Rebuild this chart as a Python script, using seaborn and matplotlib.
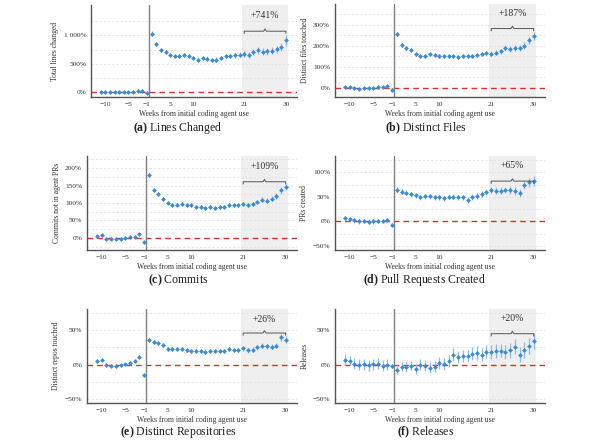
import matplotlib
matplotlib.use("Agg")
import matplotlib.pyplot as plt
import seaborn as sns
import numpy as np
import pandas as pd
from matplotlib.ticker import FixedLocator, FuncFormatter

# ---------------- data
weeks = list(range(-11, 0)) + list(range(1, 31))
tick_weeks = [-10, -5, -1, 5, 10, 21, 30]

lines_est = [5, 5, -5, -10, -5, -5, 0, 5, 10, 18, -22,
             1035, 845, 750, 705, 650, 630, 640, 648, 642, 605, 570, 600, 590, 565, 570,
             600, 630, 640, 648, 655, 676, 660, 706, 735, 712, 717, 730, 753, 795, 915]
lines_err = [12, 10, 10, 10, 10, 10, 10, 10, 12, 12, 12,
             40, 35, 35, 35, 35, 32, 32, 35, 35, 35, 40, 38, 38, 38, 40,
             40, 40, 45, 45, 45, 50, 55, 55, 60, 60, 60, 65, 65, 75, 95]

files_est = [5, 6, -2, -3, -2, -2, 2, 3, 5, 11, -8,
             257, 206, 190, 179, 163, 154, 154, 162, 156, 154, 152, 154, 154, 146, 151,
             151, 151, 157, 160, 167, 162, 167, 175, 189, 186, 190, 189, 202, 227, 249]
files_err = [5, 5, 5, 4, 4, 4, 4, 4, 5, 5, 6,
             10, 10, 10, 10, 9, 9, 9, 9, 9, 9, 9, 9, 9, 10, 10,
             10, 10, 10, 10, 11, 12, 12, 13, 14, 15, 15, 15, 16, 17, 20]

commits_est = [6, 7, -2, -3, -3, -2, 0, 2, 3, 10, -13,
               181, 137, 125, 112, 101, 95, 95, 96, 94, 94, 88, 88, 87, 88, 86,
               88, 89, 94, 93, 93, 97, 95, 96, 104, 110, 107, 112, 120, 136, 145]
commits_err = [3, 3, 3, 3, 3, 3, 3, 3, 3, 3, 4,
               5, 5, 5, 5, 5, 5, 5, 5, 5, 5, 5, 5, 5, 5, 5,
               5, 5, 5, 5, 5, 6, 6, 6, 6, 7, 7, 7, 8, 9, 9]

prs_est = [7, 5, 2, 0, 1, -1, 0, 1, 1, 3, -8,
           64, 60, 58, 55, 53, 49, 51, 51, 49, 49, 47, 50, 50, 49, 49,
           43, 49, 52, 55, 59, 64, 62, 62, 64, 64, 61, 58, 74, 80, 82]
prs_err = [5, 5, 5, 5, 5, 5, 5, 5, 5, 5, 4,
           5, 5, 5, 5, 5, 5, 5, 5, 5, 5, 5, 5, 5, 5, 5,
           6, 6, 6, 6, 6, 7, 7, 7, 7, 8, 8, 8, 9, 9, 10]

repos_est = [5, 7, -1, -1.5, -1.5, -0.5, 0.5, 3, 4.5, 10.5, -15,
             36, 33.5, 31, 28, 23, 23, 23, 23, 21.3, 20.4, 20, 20, 19, 19.4, 20,
             20.4, 20.4, 22.8, 21, 21.8, 23.8, 21, 21.8, 25.2, 27.6, 26.7, 26.2, 27.6, 39.8, 36.4]
repos_err = [2.5, 2.5, 2.5, 2.5, 2.5, 2.5, 2.5, 2.5, 2.5, 2.5, 2.5,
             3, 3, 3, 3, 3, 3, 3, 3, 3, 3, 3, 3, 3, 3, 3,
             3, 3, 3, 3, 3, 3.5, 3.5, 3.5, 3.5, 4, 4, 4, 4, 5, 5]

releases_est = [6.8, 5.8, 1, -0.5, 0.5, -1, 0.5, 1, -2, -0.5, -2.4,
                -7.3, -2.9, -3.9, -1.5, -6.8, -0.5, -1.5, -4.4, -2.9, 1.9, 1, 5.3, 14.6, 10.7, 12.6,
                12.1, 16, 16.5, 14.6, 18.9, 18.4, 19.4, 20.4, 17.9, 20.9, 26.2, 14.1, 21.3, 26.7, 34.4]
releases_err = [8, 7, 8, 8, 8, 8, 8, 8, 8, 8, 3,
                7, 7, 7, 7, 7, 8, 8, 8, 8, 9, 9, 9, 9, 9, 9,
                9, 9, 10, 10, 10, 10, 10, 10, 10, 11, 11, 11, 12, 12, 12]

ylabels = ["Total lines changed", "Distinct files touched", "Commits not in agent PRs",
           "PRs created", "Distinct repos touched", "Releases"]
letters = ["(a)", "(b)", "(c)", "(d)", "(e)", "(f)"]
captions = ["Lines Changed", "Distinct Files", "Commits",
            "Pull Requests Created", "Distinct Repositories", "Releases"]
late_gain = ["+741%", "+187%", "+109%", "+65%", "+26%", "+20%"]
yticks = [[0, 500, 1000], [0, 100, 200, 300], [0, 50, 100, 150, 200],
          [-50, 0, 50, 100], [-50, 0, 50], [-50, 0, 50]]
estimates = [lines_est, files_est, commits_est, prs_est, repos_est, releases_est]
errors = [lines_err, files_err, commits_err, prs_err, repos_err, releases_err]

# ---------------- per-panel layout (pixels of a 592x445 canvas)
W, H = 592, 445
boxes = [(91, 5, 297, 97), (335, 4, 545, 97),
         (87, 156, 297, 250), (335, 156, 545, 250),
         (87, 309, 297, 403), (335, 309, 545, 403)]
ylims = [(-90, 1540), (-43, 400), (-35, 235), (-58, 133), (-56, 81), (-56, 81)]
bracket_y = [1076, 283, 161, 82, 46, 45]
gain_y = [1353, 357, 205, 113, 66, 67]
caption_xy = [(178, 128), (426, 128), (178, 280), (424, 280), (178, 432), (426, 432)]

sns.set_theme(style="white")
plt.rcParams["font.family"] = ["Liberation Serif", "DejaVu Serif"]
plt.rcParams["mathtext.fontset"] = "custom"
plt.rcParams["mathtext.rm"] = "Liberation Serif"
plt.rcParams["mathtext.bf"] = "Liberation Serif:bold"


def pos(w):
    # no week 0 on the axis: post weeks sit right after week -1
    return w if w < 0 else w - 1


def pct(v, _):
    s = "{:,.0f}".format(abs(v)).replace(",", " ")
    return ("\u2212" if v < 0 else "") + s + "%"


blue = "#3a8ad8"
light_blue = "#8dbbe8"
fig = plt.figure(figsize=(W / 100, H / 100), dpi=100)

for i in range(6):
    l, t, r, b = boxes[i]
    ax = fig.add_axes([l / W, 1 - b / H, (r - l) / W, (b - t) / H])
    df = pd.DataFrame({"week": weeks, "est": estimates[i], "err": errors[i]})
    df["x"] = df["week"].map(pos)

    ax.axvspan(pos(21) - 0.5, pos(30) + 0.5, color="#efefef", lw=0, zorder=0)
    ax.errorbar(df["x"], df["est"], yerr=df["err"], fmt="none", ecolor=light_blue,
                elinewidth=0.9, zorder=2)
    sns.scatterplot(data=df, x="x", y="est", ax=ax, color=blue, s=6, linewidth=0,
                    marker="D", zorder=3, legend=False)

    ax.axhline(0, color="#d8302a", lw=1.0, dashes=(4, 3), zorder=1)
    ax.axvline(-0.5, color="#808080", lw=1.0, zorder=1)

    # bracket over the last ten weeks
    lo, hi = ylims[i]
    d = 0.025 * (hi - lo)
    x0, x1 = pos(21), pos(30)
    xm = (x0 + x1) / 2
    ax.plot([x0, x0, xm - 0.3, xm, xm + 0.3, x1, x1],
            [bracket_y[i] - d, bracket_y[i], bracket_y[i], bracket_y[i] + d,
             bracket_y[i], bracket_y[i], bracket_y[i] - d],
            color="#555555", lw=0.7, zorder=4)
    ax.text(xm, gain_y[i], late_gain[i], ha="center", va="center", fontsize=7, color="#333333")

    ax.set_xlim(-13.1, 31.4)
    ax.set_ylim(lo, hi)
    ax.set_xticks([pos(w) for w in tick_weeks])
    ax.set_xticklabels([("\u2212" + str(-w)) if w < 0 else str(w) for w in tick_weeks])
    major = yticks[i]
    half = (major[1] - major[0]) / 2
    grid_vals = [v for v in np.arange(major[0] - 2 * half, major[-1] + 1.5 * half, half)
                 if lo < v < hi and v not in major]
    ax.yaxis.set_major_locator(FixedLocator(major))
    ax.yaxis.set_minor_locator(FixedLocator(grid_vals))
    ax.yaxis.set_major_formatter(FuncFormatter(pct))
    ax.grid(axis="y", which="both", color="#dcdcdc", lw=0.5, ls=(0, (3, 3)))
    ax.set_axisbelow(True)

    ax.tick_params(axis="both", labelsize=5.3, length=2, width=0.6, pad=1.5, colors="#333333")
    ax.tick_params(axis="y", which="minor", length=0)
    ax.set_xlabel("Weeks from initial coding agent use", fontsize=5.5, labelpad=2, color="#333333")
    ax.set_ylabel(ylabels[i], fontsize=5.5, labelpad=3, color="#333333")
    for side in ["top", "right"]:
        ax.spines[side].set_visible(False)
    for side in ["left", "bottom"]:
        ax.spines[side].set_color("#555555")
        ax.spines[side].set_linewidth(1.0)

    cx, cy = caption_xy[i]
    fig.text(cx / W, 1 - cy / H, r"$\mathbf{" + letters[i] + "}$ " + captions[i],
             ha="center", va="center", fontsize=8.5, color="#222222")

fig.savefig("out.png", dpi=100)
